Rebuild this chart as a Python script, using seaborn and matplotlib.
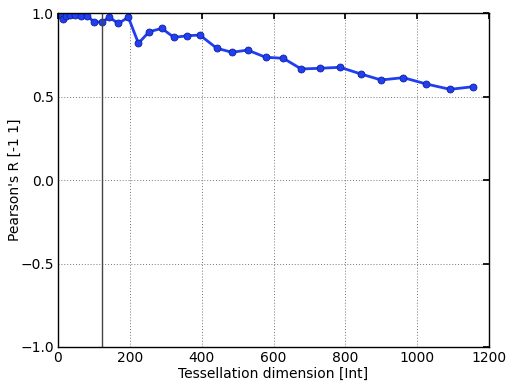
import matplotlib
matplotlib.use("Agg")
import matplotlib.pyplot as plt
import seaborn as sns
import pandas as pd

dims = [6, 15, 22, 35, 47, 63, 82, 100, 122, 143, 168, 196, 224, 254, 289, 323, 360, 395,
        442, 484, 528, 578, 627, 677, 729, 785, 843, 899, 961, 1025, 1091, 1156]
corr = [0.988, 0.962, 0.982, 0.990, 0.990, 0.984, 0.984, 0.946, 0.946, 0.974, 0.938, 0.974,
        0.819, 0.888, 0.908, 0.854, 0.864, 0.868,
        0.789, 0.765, 0.778, 0.735, 0.729, 0.665, 0.669, 0.675, 0.635, 0.599, 0.613, 0.575,
        0.543, 0.559]
marker_dim = 122
xticks = [0, 200, 400, 600, 800, 1000, 1200]
yticks = [-1.0, -0.5, 0.0, 0.5, 1.0]

sns.set_theme(style="white")
plt.rcParams['font.family'] = ['DejaVu Sans']
plt.rcParams['text.color'] = 'black'
plt.rcParams['axes.labelcolor'] = 'black'

df = pd.DataFrame({"dim": dims, "r": corr})

fig = plt.figure(figsize=(5.08, 3.83), dpi=100)
ax = fig.add_axes([0.114, 0.094, 0.849, 0.872])

sns.lineplot(data=df, x="dim", y="r", ax=ax, color="#1f3ff0", linewidth=2,
             marker="o", markersize=5, markerfacecolor="#1f3ff0",
             markeredgecolor="#10209a", markeredgewidth=0.6)
ax.axvline(marker_dim, color="#444444", linewidth=1)

ax.set_xlim(0, 1200)
ax.set_ylim(-1, 1)
ax.set_xticks(xticks)
ax.set_yticks(yticks)
ax.grid(True, color="#777777", linestyle=(0, (1, 2)), linewidth=0.7)
ax.tick_params(direction="in", top=True, right=True, length=4, labelsize=10,
               colors="black", labelcolor="black", pad=3)
for s in ax.spines.values():
    s.set_color("black")
    s.set_linewidth(1)
ax.set_xlabel("Tessellation dimension [Int]", fontsize=10, labelpad=1, color="black")
ax.set_ylabel("Pearson's R [-1 1]", fontsize=10, color="black")
ax.yaxis.set_label_coords(-0.084, 0.5)

fig.savefig("out.png", dpi=100)
